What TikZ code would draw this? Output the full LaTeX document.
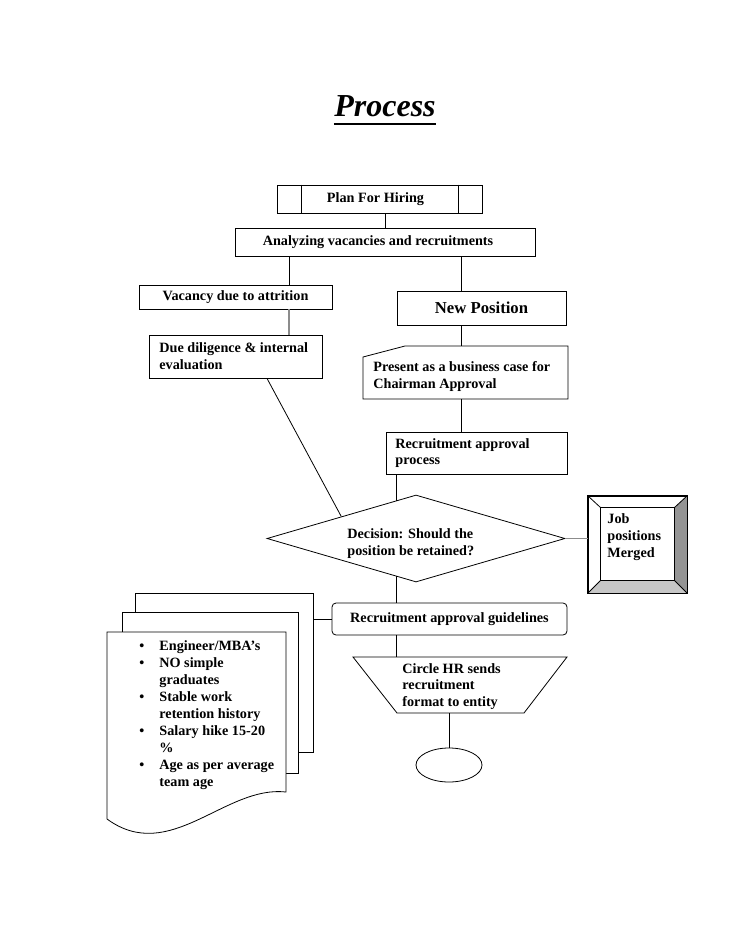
\documentclass[tikz,border=0pt]{standalone}
\usepackage{fontspec}
\setmainfont{Liberation Serif}
\usetikzlibrary{shapes.geometric}
\begin{document}
\begin{tikzpicture}[x=1pt,y=-1pt, line width=0.8pt,
  box/.style={draw, rectangle, inner sep=0pt, font=\bfseries\fontsize{14.2}{16.7}\selectfont},
  txt/.style={font=\bfseries\fontsize{14.2}{16.7}\selectfont, inner sep=0pt, align=left},
  gconn/.style={draw=black!45, line width=1.1pt}]
\useasboundingbox (0,0) rectangle (728,942);
% title
\node[font=\bfseries\itshape\fontsize{32}{36}\selectfont, anchor=base, inner sep=0pt] (title) at (385,116) {Process};
\draw[line width=1.6pt] ([yshift=-7pt]title.south west) -- ([yshift=-7pt]title.south east);
% column coordinates
\coordinate (c289) at (289,0);
\coordinate (c461) at (461,0);
\coordinate (c267) at (267,0);
\coordinate (c396) at (396,0);
% plan
\node[box, minimum width=205, minimum height=28] (plan) at (379.5,199) {};
\draw ([xshift=25pt]plan.north west) -- ([xshift=25pt]plan.south west);
\draw ([xshift=-24pt]plan.north east) -- ([xshift=-24pt]plan.south east);
\node[txt] (plant) at (375.5,199) {Plan For Hiring};
% analyzing
\node[box, minimum width=300, minimum height=28] (ana) at (385,242) {};
\node[txt] (anat) at (378,242) {Analyzing vacancies and recruitments};
\draw (ana.north |- plan.south) -- (ana.north);
% vacancy
\node[box, minimum width=193, minimum height=24] (vac) at (235.5,297) {Vacancy due to attrition};
\draw (ana.south -| c289) -- (vac.north -| c289);
% new position
\node[box, minimum width=169, minimum height=34, font=\bfseries\fontsize{16.7}{19}\selectfont] (newpos) at (481.5,308) {New Position};
\draw (ana.south -| c461) -- (newpos.north -| c461);
% due diligence
\node[box, minimum width=173, minimum height=43] (due) at (235.5,356.5) {};
\node[txt, anchor=west] (duet) at (159,356.5) {Due diligence \& internal\\evaluation};
\draw[gconn] (vac.south -| c289) -- (due.north -| c289);
% present
\coordinate (prtop) at (461,346);
\coordinate (prbot) at (461,399);
\draw (363,357) -- (405,346) -- (568,346) -- (568,399) -- (363,399) -- cycle;
\node[txt, anchor=west] (prt) at (373,376.5) {Present as a business case for\\Chairman Approval};
\draw (newpos.south -| c461) -- (prtop);
% recruitment approval process
\node[box, minimum width=181, minimum height=42] (rap) at (476.5,453) {};
\node[txt, anchor=west] (rapt) at (395,453) {Recruitment approval\\process};
\draw (prbot) -- (rap.north -| c461);
% decision
\node[diamond, draw, minimum width=298, minimum height=87, inner sep=0pt] (dec) at (416,538.5) {};
\node[txt, anchor=west] (dect) at (347,543.5) {Decision: Should the\\position be retained?};
\coordinate (decin) at (396,501);
\coordinate (decout) at (396,576);
\draw (due.south -| c267) -- (dec.north west);
\draw (rap.south -| c396) -- (decin);
% job positions merged
\node[draw, rectangle, inner sep=0pt, minimum width=99, minimum height=97] (job) at (637.5,544.5) {};
\path (job.north west) ++(13,12) coordinate (jnw);
\path (job.north east) ++(-13,12) coordinate (jne);
\path (job.south east) ++(-13,-13) coordinate (jse);
\path (job.south west) ++(13,-13) coordinate (jsw);
\fill[black!42] (job.north east) -- (job.south east) -- (jse) -- (jne) -- cycle;
\fill[black!22] (job.south west) -- (job.south east) -- (jse) -- (jsw) -- cycle;
\draw (job.north west) rectangle (job.south east);
\draw (jnw) rectangle (jse);
\draw (job.north west) -- (jnw) (job.north east) -- (jne) (job.south east) -- (jse) (job.south west) -- (jsw);
\node[txt, anchor=west] (jobt) at (607,537) {Job\\positions\\Merged};
\draw[gconn] (dec.east) -- (dec.east -| job.west);
% recruitment approval guidelines
\node[box, rounded corners=4pt, minimum width=235, minimum height=32] (rag) at (449.5,619) {Recruitment approval guidelines};
\draw (decout) -- (rag.north -| c396);
% document stack
\node[draw, rectangle, fill=white, inner sep=0pt, minimum width=178, minimum height=159] (back) at (224,672.5) {};
\node[draw, rectangle, fill=white, inner sep=0pt, minimum width=176, minimum height=161] (mid) at (210,692.5) {};
\draw[fill=white] (107,632) -- (286,632) -- (286,792) .. controls (225,785) and (170,865) .. (107,819) -- cycle;
\node[txt, anchor=north west, font=\bfseries\fontsize{14.2}{17}\selectfont] (bul) at (139,640) {%
\makebox[20pt][l]{\textbullet}Engineer/MBA’s\\
\makebox[20pt][l]{\textbullet}NO simple\\
\hspace*{20pt}graduates\\
\makebox[20pt][l]{\textbullet}Stable work\\
\hspace*{20pt}retention history\\
\makebox[20pt][l]{\textbullet}Salary hike 15-20\\
\hspace*{20pt}\%\\
\makebox[20pt][l]{\textbullet}Age as per average\\
\hspace*{20pt}team age};
\draw (rag.west) -- (rag.west -| back.east);
% trapezoid
\coordinate (traptop) at (460,657);
\coordinate (trapbot) at (460,713);
\draw (353,657) -- (567,657) -- (524,713) -- (397,713) -- cycle;
\node[txt, anchor=west] (trapt) at (402,686.5) {Circle HR sends\\recruitment\\format to entity};
\draw (rag.south -| c396) -- (c396 |- traptop);
% ellipse
\node[draw, ellipse, minimum width=66, minimum height=34, inner sep=0pt] (ell) at (449,765) {};
\draw (ell.north |- trapbot) -- (ell.north);
\end{tikzpicture}
\end{document}
